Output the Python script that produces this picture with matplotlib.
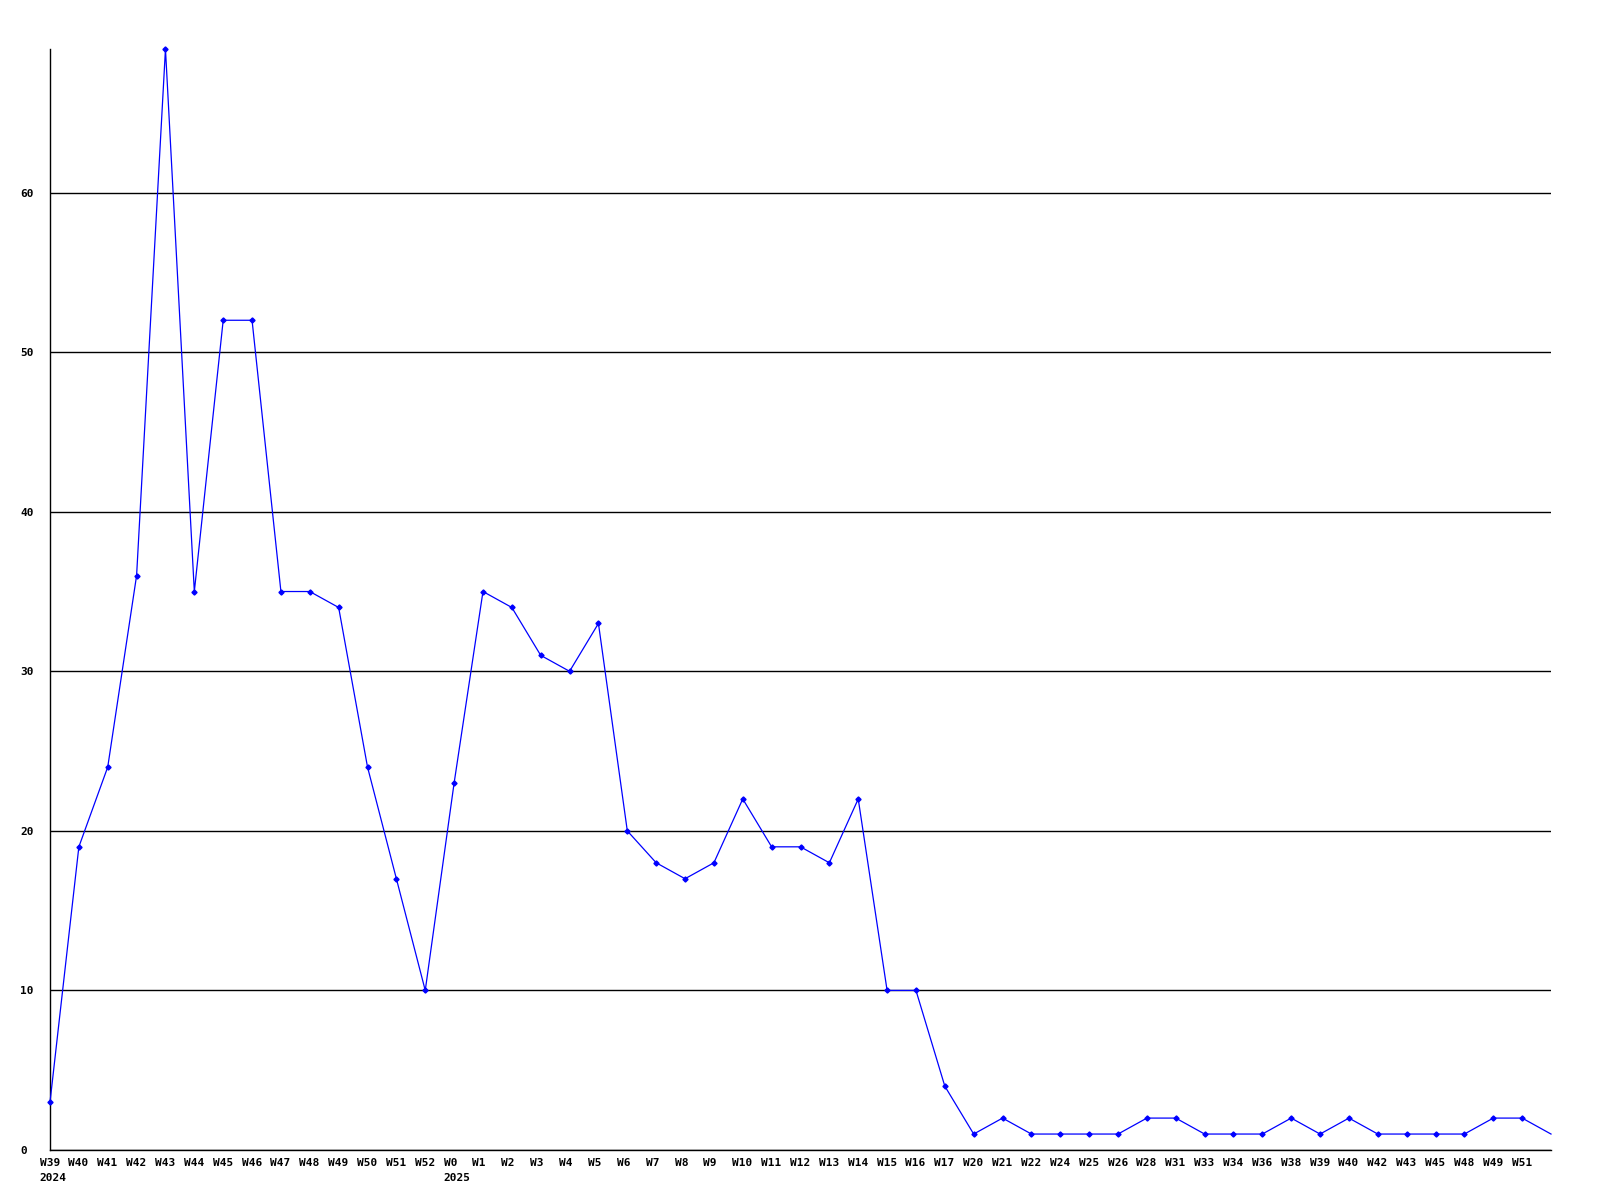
import matplotlib
matplotlib.use("Agg")
import matplotlib.pyplot as plt
import matplotlib.transforms as mtransforms

# weekly values, the last point has no label
weeks = ["W39", "W40", "W41", "W42", "W43", "W44", "W45", "W46", "W47", "W48",
         "W49", "W50", "W51", "W52", "W0", "W1", "W2", "W3", "W4", "W5",
         "W6", "W7", "W8", "W9", "W10", "W11", "W12", "W13", "W14", "W15",
         "W16", "W17", "W20", "W21", "W22", "W24", "W25", "W26", "W28", "W31",
         "W33", "W34", "W36", "W38", "W39", "W40", "W42", "W43", "W45", "W48",
         "W49", "W51", ""]
values = [3, 19, 24, 36, 69, 35, 52, 52, 35, 35,
          34, 24, 17, 10, 23, 35, 34, 31, 30, 33,
          20, 18, 17, 18, 22, 19, 19, 18, 22, 10,
          10, 4, 1, 2, 1, 1, 1, 1, 2, 2,
          1, 1, 1, 2, 1, 2, 1, 1, 1, 1,
          2, 2, 1]
years = {0: "2024", 14: "2025"}
y_ticks = [0, 10, 20, 30, 40, 50, 60]

font = {"family": "DejaVu Sans Mono", "weight": "bold", "size": 8}

fig = plt.figure(figsize=(16, 12), dpi=100)
ax = fig.add_axes([50 / 1600, 1 - 1150 / 1200, 1501 / 1600, 1101 / 1200])

x = list(range(len(values)))
ax.plot(x, values, color="#0000ff", lw=0.9, marker="D", ms=2.6,
        markevery=list(range(len(values) - 1)), clip_on=False, zorder=3)

ax.set_xlim(0, len(values) - 1)
ax.set_ylim(0, max(values))

for s in ["top", "right"]:
    ax.spines[s].set_visible(False)
for s in ["left", "bottom"]:
    ax.spines[s].set_color("black")
    ax.spines[s].set_linewidth(1)

ax.set_yticks(y_ticks)
ax.set_yticklabels([str(v) for v in y_ticks], **font)
ax.tick_params(axis="y", length=0, pad=21.6)
for lab in ax.get_yticklabels():
    lab.set_horizontalalignment("left")
ax.grid(axis="y", color="black", lw=1)
ax.set_axisbelow(True)

ax.set_xticks([])
base = mtransforms.blended_transform_factory(ax.transData, ax.transAxes)
week_off = mtransforms.ScaledTranslation(-10.5 / 100, -8 / 100, fig.dpi_scale_trans)
year_off = mtransforms.ScaledTranslation(-10.5 / 100, -23 / 100, fig.dpi_scale_trans)
for i, w in enumerate(weeks):
    ax.text(i, 0, w, transform=base + week_off, ha="left", va="top", **font)
    if i in years:
        ax.text(i, 0, years[i], transform=base + year_off, ha="left", va="top", **font)

fig.savefig("out.png", dpi=100)
